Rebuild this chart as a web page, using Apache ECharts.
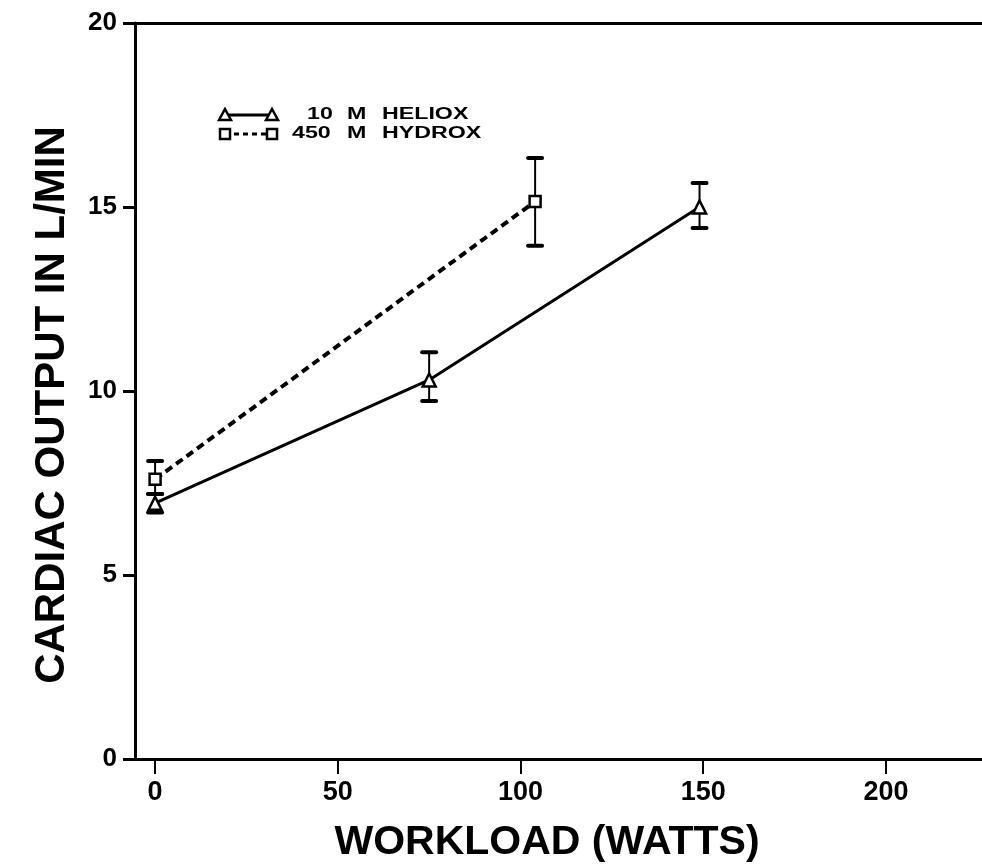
<!DOCTYPE html>
<html><head><meta charset="utf-8">
<script src="https://cdn.jsdelivr.net/npm/echarts@6/dist/echarts.min.js"></script>
<style>html,body{margin:0;padding:0;background:#fff}#c{width:982px;height:864px}</style>
</head><body><div id="c"></div><script>
// ---- data ----
const xTicks = [0, 50, 100, 150, 200];
const yTicks = [0, 5, 10, 15, 20];
const helioxW = [0, 75, 149];
const helioxMean = [6.95, 10.3, 15.0];
const helioxLow = [6.7, 9.73, 14.43];
const helioxHigh = [7.2, 11.05, 15.65];
const hydroxW = [0, 104];
const hydroxMean = [7.6, 15.15];
const hydroxLow = [7.2, 13.95];
const hydroxHigh = [8.1, 16.33];
const seriesNames = ['10 M HELIOX', '450 M HYDROX'];
const xTitle = 'WORKLOAD (WATTS)';
const yTitle = 'CARDIAC OUTPUT IN L/MIN';

const zip = (a, b) => a.map((v, i) => [v, b[i]]);
const zip3 = (a, b, c) => a.map((v, i) => [v, b[i], c[i]]);

function errItem(params, api) {
  const x = api.value(0), lo = api.value(1), hi = api.value(2);
  const pLo = api.coord([x, lo]), pHi = api.coord([x, hi]);
  const hw = 7;
  const st = { stroke: '#000', lineWidth: 2 };
  const cap = { stroke: '#000', lineWidth: 4, lineCap: 'round' };
  return { type: 'group', children: [
    { type: 'line', shape: { x1: pLo[0], y1: pLo[1], x2: pHi[0], y2: pHi[1] }, style: st },
    { type: 'line', shape: { x1: pLo[0] - hw, y1: pLo[1], x2: pLo[0] + hw, y2: pLo[1] }, style: cap },
    { type: 'line', shape: { x1: pHi[0] - hw, y1: pHi[1], x2: pHi[0] + hw, y2: pHi[1] }, style: cap }
  ]};
}

const chart = echarts.init(document.getElementById('c'), null, { renderer: 'canvas' });
const FONT = 'Liberation Sans, Arial, sans-serif';
const xMin = -5.5, xMax = 226.3;

function legendRow(y, kind, words, xs) {
  const ch = [];
  ch.push({ type: 'line', shape: { x1: 225, y1: y, x2: 272, y2: y },
    style: kind === 'tri' ? { stroke: '#000', lineWidth: 3 } : { stroke: '#000', lineWidth: 3, lineDash: [5, 4] } });
  [225, 272].forEach(cx => {
    if (kind === 'tri') {
      ch.push({ type: 'polygon', shape: { points: [[cx, y - 6], [cx - 6, y + 5], [cx + 6, y + 5]] }, style: { fill: '#fff', stroke: '#000', lineWidth: 2.5 } });
    } else {
      ch.push({ type: 'rect', shape: { x: cx - 5, y: y - 5, width: 10, height: 10 }, style: { fill: '#fff', stroke: '#000', lineWidth: 2.5 } });
    }
  });
  words.forEach((w, i) => {
    ch.push({ type: 'text', x: xs[i], y: y, scaleX: 1.45, style: { text: w, font: 'bold 16px ' + FONT, fill: '#000', align: 'left', verticalAlign: 'middle' } });
  });
  return ch;
}

const option = {
  backgroundColor: '#fff',
  animation: false,
  grid: { left: 135, right: 0, top: 23, bottom: 105, outerBoundsMode: 'none', containLabel: false },
  xAxis: [{
    type: 'value', min: xMin, max: xMax,
    axisLine: { show: true, onZero: false, lineStyle: { color: '#000', width: 3 } },
    axisTick: { show: true, customValues: xTicks, length: 15, lineStyle: { color: '#000', width: 2 } },
    axisLabel: { show: true, customValues: xTicks, color: '#000', fontSize: 27, fontWeight: 'bold', fontFamily: FONT, margin: 20 },
    splitLine: { show: false }
  }, {
    type: 'value', position: 'top', min: xMin, max: xMax,
    axisLine: { show: true, onZero: false, lineStyle: { color: '#000', width: 3 } },
    axisTick: { show: false }, axisLabel: { show: false }, splitLine: { show: false }
  }],
  yAxis: {
    type: 'value', min: 0, max: 20, interval: 5,
    axisLine: { show: true, onZero: false, lineStyle: { color: '#000', width: 3 } },
    axisTick: { show: true, length: 12, lineStyle: { color: '#000', width: 3 } },
    axisLabel: { color: '#000', fontSize: 26, fontWeight: 'bold', fontFamily: FONT, margin: 18,
      formatter: v => yTicks.includes(v) ? String(v) : '' },
    splitLine: { show: false }
  },
  series: [
    { type: 'custom', name: seriesNames[0] + ' SE', renderItem: errItem, data: zip3(helioxW, helioxLow, helioxHigh), z: 2, silent: true },
    { type: 'custom', name: seriesNames[1] + ' SE', renderItem: errItem, data: zip3(hydroxW, hydroxLow, hydroxHigh), z: 2, silent: true },
    { type: 'line', name: seriesNames[0], data: zip(helioxW, helioxMean), symbol: 'triangle', symbolSize: 13,
      lineStyle: { color: '#000', width: 3 }, itemStyle: { color: '#fff', borderColor: '#000', borderWidth: 2.5 }, z: 3 },
    { type: 'line', name: seriesNames[1], data: zip(hydroxW, hydroxMean), symbol: 'rect', symbolSize: 11,
      lineStyle: { color: '#000', width: 4, type: [8, 5] }, itemStyle: { color: '#fff', borderColor: '#000', borderWidth: 2.5 }, z: 3 }
  ],
  graphic: [
    { type: 'text', x: 547, y: 843, style: { text: xTitle, font: 'bold 41px ' + FONT, fill: '#000', align: 'center', verticalAlign: 'middle' } },
    { type: 'text', x: 52, y: 405, rotation: Math.PI / 2, style: { text: yTitle, font: 'bold 42px ' + FONT, fill: '#000', align: 'center', verticalAlign: 'middle' } },
    { type: 'group', children: legendRow(115, 'tri', ['10', 'M', 'HELIOX'], [307, 347, 382]) },
    { type: 'group', children: legendRow(134, 'sq', ['450', 'M', 'HYDROX'], [292, 347, 382]) }
  ]
};
chart.setOption(option);
</script></body></html>
